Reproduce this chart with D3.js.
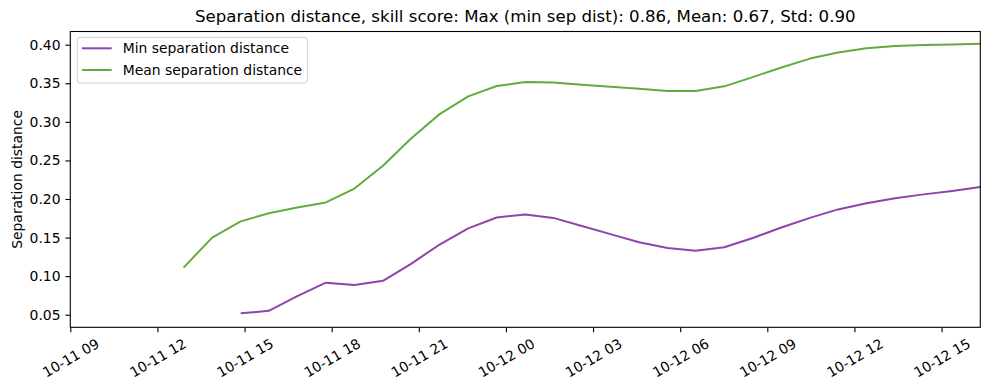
<!DOCTYPE html>
<html>
<head>
<meta charset="utf-8">
<script src="https://cdn.jsdelivr.net/npm/d3@7"></script>
<style>
  body { margin: 0; background: #fff; }
  text { font-family: "DejaVu Sans", sans-serif; fill: #000; }
</style>
</head>
<body>
<svg id="chart"></svg>
<script>
//data
const times = [
  "2023-10-11T12:54", "2023-10-11T13:53", "2023-10-11T14:52", "2023-10-11T15:50",
  "2023-10-11T16:49", "2023-10-11T17:48", "2023-10-11T18:47", "2023-10-11T19:46",
  "2023-10-11T20:44", "2023-10-11T21:43", "2023-10-11T22:42", "2023-10-11T23:41",
  "2023-10-12T00:40", "2023-10-12T01:38", "2023-10-12T02:37", "2023-10-12T03:36",
  "2023-10-12T04:35", "2023-10-12T05:34", "2023-10-12T06:32", "2023-10-12T07:31",
  "2023-10-12T08:30", "2023-10-12T09:29", "2023-10-12T10:28", "2023-10-12T11:26",
  "2023-10-12T12:25", "2023-10-12T13:24", "2023-10-12T14:23", "2023-10-12T15:22",
  "2023-10-12T16:20"
];
const minSep = [
  null, null, 0.0518, 0.0550, 0.0740, 0.0915, 0.0885, 0.0940,
  0.1160, 0.1410, 0.1620, 0.1760, 0.1800, 0.1755, 0.1650, 0.1545,
  0.1440, 0.1365, 0.1330, 0.1375, 0.1495, 0.1630, 0.1755, 0.1865,
  0.1945, 0.2010, 0.2060, 0.2105, 0.2155
];
const meanSep = [
  0.1110, 0.1500, 0.1710, 0.1815, 0.1890, 0.1955, 0.2135, 0.2430,
  0.2785, 0.3100, 0.3330, 0.3465, 0.3515, 0.3510, 0.3480, 0.3455,
  0.3428, 0.3400, 0.3400, 0.3460, 0.3580, 0.3705, 0.3820, 0.3900,
  0.3955, 0.3983, 0.3995, 0.4003, 0.4012
];
const seriesNames = ["Min separation distance", "Mean separation distance"];
const seriesColors = ["#8e44ad", "#63ab3f"];
const yTicks = [0.05, 0.10, 0.15, 0.20, 0.25, 0.30, 0.35, 0.40];
const xStart = "2023-10-11T09:00";
const titleText = "Separation distance, skill score: Max (min sep dist): 0.86, Mean: 0.67, Std: 0.90";

//window setting
const width = 989;
const height = 390;
const margin = { top: 31.5, right: 8.7, bottom: 62.7, left: 70.3 };
const innerW = width - margin.left - margin.right;
const innerH = height - margin.top - margin.bottom;
const svg = d3.select("#chart").attr("width", width).attr("height", height);

const parse = d3.timeParse("%Y-%m-%dT%H:%M");
const dates = times.map(parse);

const x = d3.scaleTime()
  .domain([parse(xStart), dates[dates.length - 1]])
  .range([0, innerW]);
const y = d3.scaleLinear().domain([0.0337, 0.4171]).range([innerH, 0]);

const g = svg.append("g").attr("transform", `translate(${margin.left},${margin.top})`);

//lines
const line = d3.line()
  .defined((d) => d[1] != null)
  .x((d) => x(d[0]))
  .y((d) => y(d[1]));
[minSep, meanSep].forEach((vals, i) => {
  g.append("path")
    .datum(dates.map((t, j) => [t, vals[j]]))
    .attr("fill", "none")
    .attr("stroke", seriesColors[i])
    .attr("stroke-width", 2)
    .attr("stroke-linejoin", "round")
    .attr("d", line);
});

//axes
const fontSize = "13.9px";
const yAxis = g.append("g")
  .call(d3.axisLeft(y).tickValues(yTicks).tickFormat(d3.format(".2f")).tickSize(4.9).tickPadding(4.9));
yAxis.select(".domain").remove();
yAxis.selectAll("line").attr("stroke", "#000").attr("stroke-width", 1.1);
yAxis.selectAll("text").style("font-size", fontSize).attr("font-family", null);

const xTicks = d3.timeHour.every(3).range(parse(xStart), d3.timeHour.offset(dates[dates.length - 1], 1))
  .filter((t) => t <= dates[dates.length - 1]);
const xAxis = g.append("g")
  .attr("transform", `translate(0,${innerH})`)
  .call(d3.axisBottom(x).tickValues(xTicks).tickSize(4.9).tickFormat(() => ""));
xAxis.select(".domain").remove();
xAxis.selectAll("line").attr("stroke", "#000").attr("stroke-width", 1.1);
xAxis.selectAll(".tick")
  .append("text")
  .attr("text-anchor", "middle")
  .attr("dominant-baseline", "central")
  .attr("transform", "translate(0,30.5) rotate(-30)")
  .style("font-size", fontSize)
  .text((d) => d3.timeFormat("%m-%d %H")(d));

//frame
g.append("rect")
  .attr("width", innerW)
  .attr("height", innerH)
  .attr("fill", "none")
  .attr("stroke", "#000")
  .attr("stroke-width", 1.1);

//labels
svg.append("text")
  .attr("x", margin.left + innerW / 2)
  .attr("y", 21.5)
  .attr("text-anchor", "middle")
  .style("font-size", "16.6px")
  .text(titleText);
svg.append("text")
  .attr("transform", `translate(16.5,${margin.top + innerH / 2}) rotate(-90)`)
  .attr("text-anchor", "middle")
  .attr("dominant-baseline", "central")
  .style("font-size", fontSize)
  .text("Separation distance");

//legend
const Lgd = g.append("g").attr("transform", "translate(7,5.8)");
Lgd.append("rect")
  .attr("width", 230)
  .attr("height", 45.7)
  .attr("rx", 3)
  .attr("fill", "#fff")
  .attr("fill-opacity", 0.8)
  .attr("stroke", "#d0d0d0")
  .attr("stroke-width", 1);
seriesNames.forEach((name, i) => {
  const row = Lgd.append("g").attr("transform", `translate(0,${11 + i * 21.7})`);
  row.append("line")
    .attr("x1", 4.7).attr("x2", 34.4)
    .attr("stroke", seriesColors[i])
    .attr("stroke-width", 2);
  row.append("text")
    .attr("x", 45.4)
    .attr("dominant-baseline", "central")
    .style("font-size", fontSize)
    .text(name);
});
</script>
</body>
</html>
